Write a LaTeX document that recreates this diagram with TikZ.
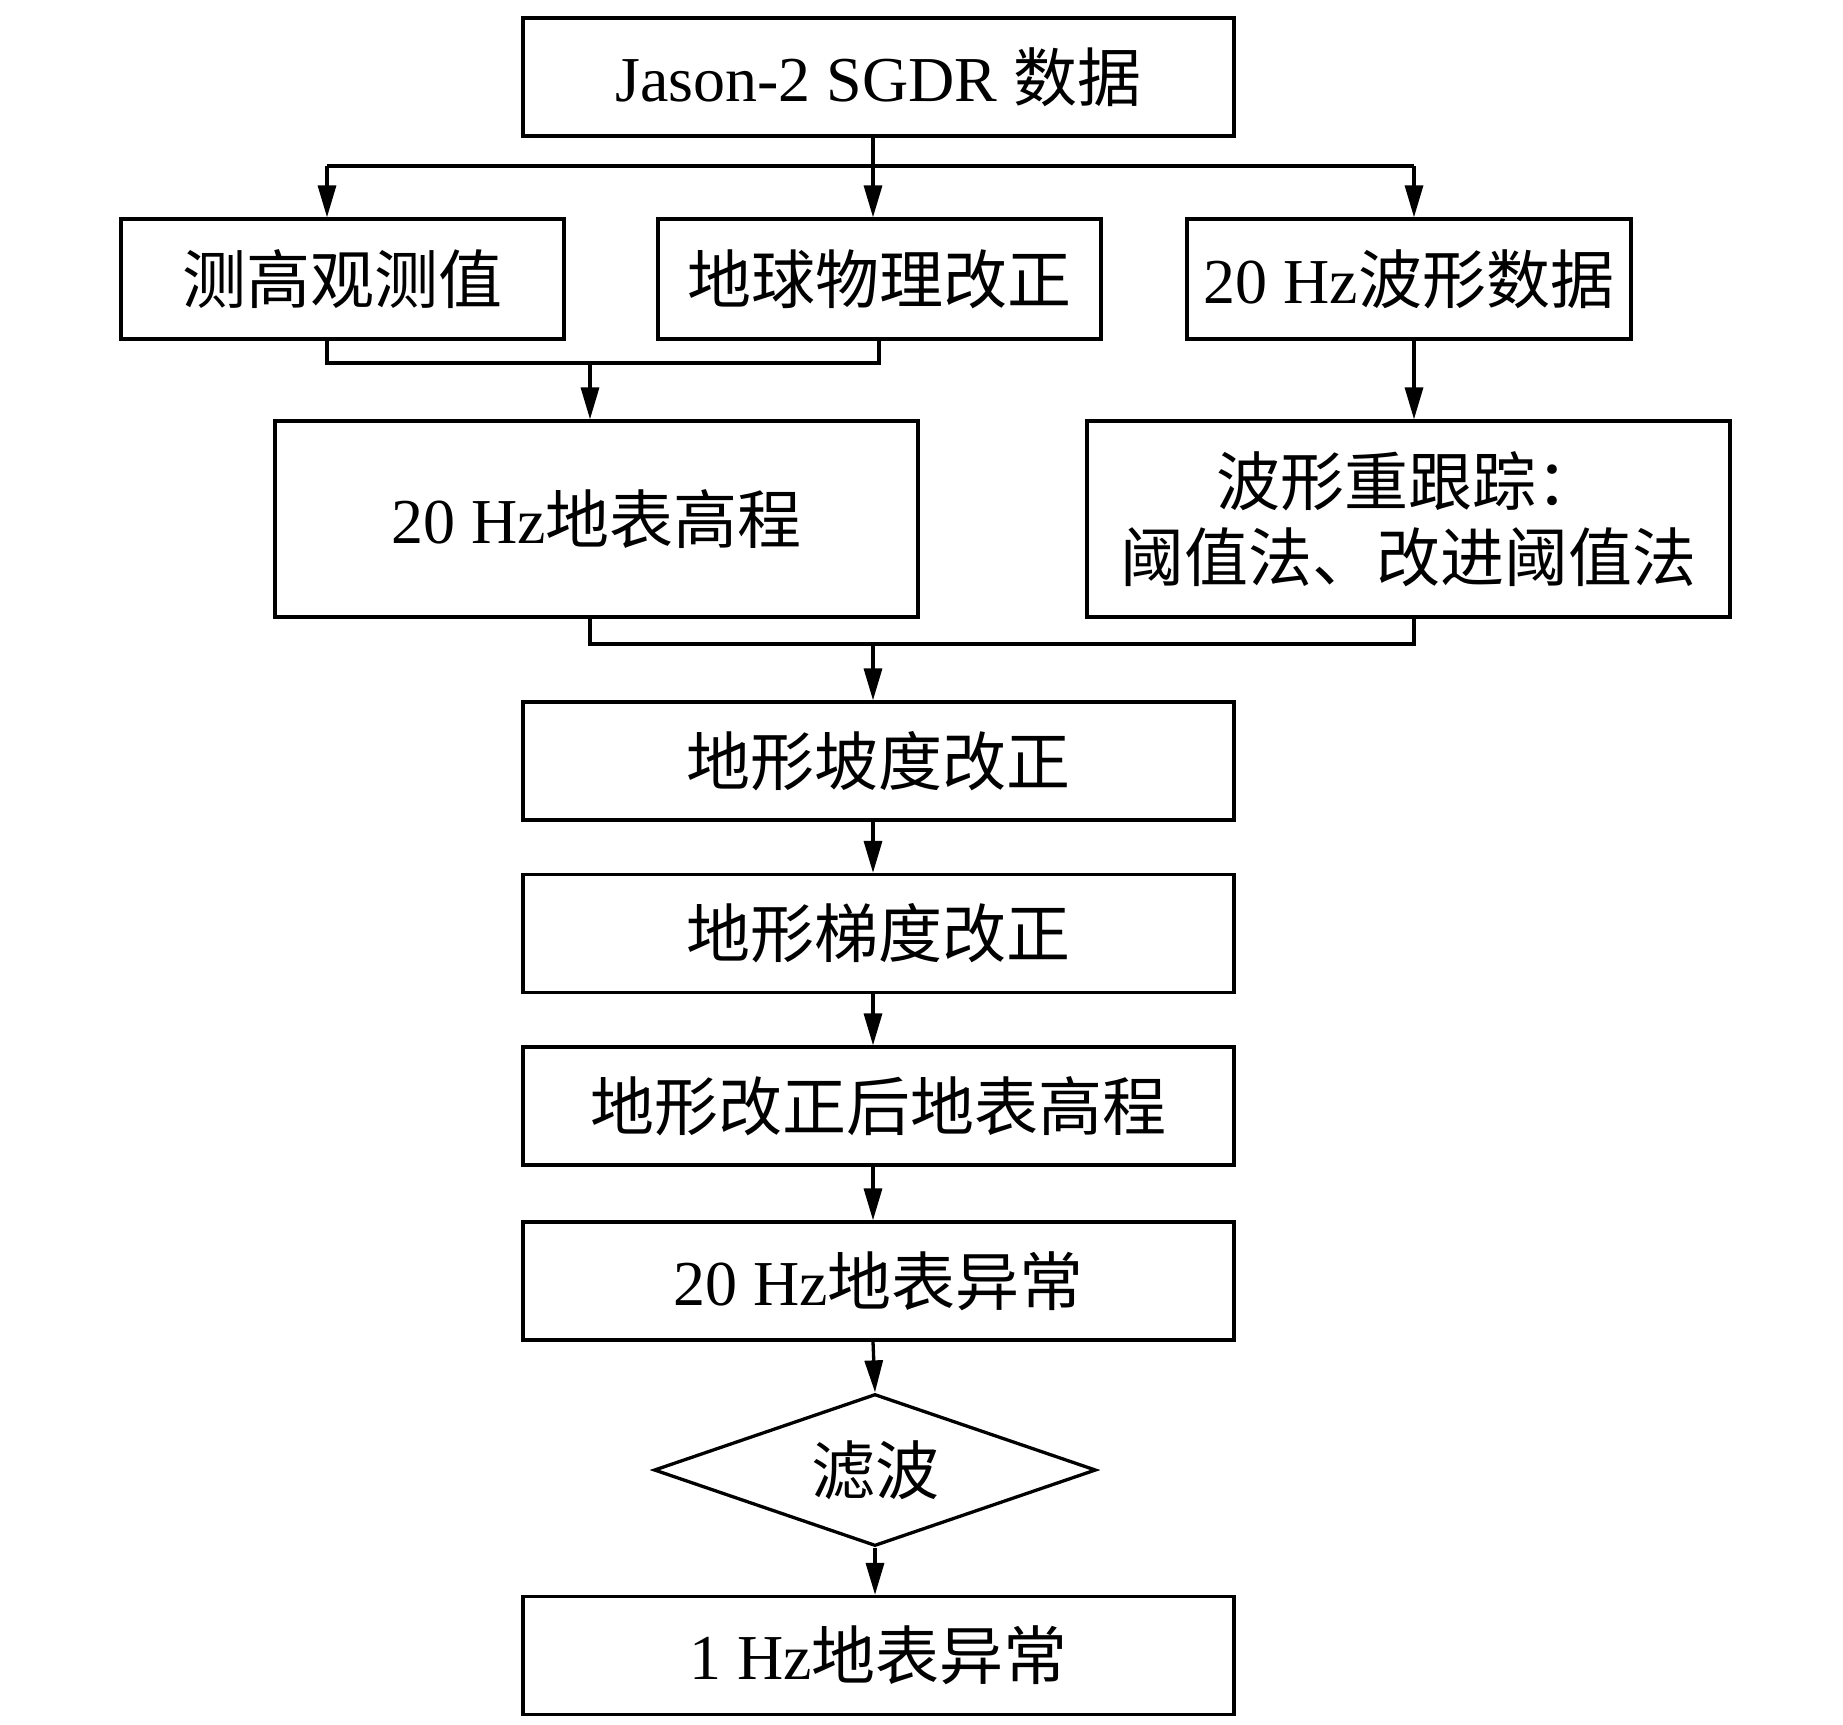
\documentclass[tikz,border=0pt]{standalone}
\usepackage{fontspec}
\setmainfont{Liberation Serif}
\newfontfamily\zh{Noto Sans CJK SC}
\usetikzlibrary{arrows.meta,shapes.geometric}
\tikzset{
  box/.style={draw, line width=3.3pt, rectangle, inner sep=0pt, align=center,
    font=\fontsize{64pt}{76pt}\selectfont},
  dia/.style={draw, line width=3.3pt, diamond, inner sep=0pt, aspect=2.9,
    font=\fontsize{64pt}{76pt}\selectfont},
  conn/.style={line width=3.3pt},
  arr/.style={line width=3.3pt, -{Triangle[length=32pt,width=18pt]}},
}
\begin{document}
\begin{tikzpicture}[x=1pt,y=-1pt]
\useasboundingbox (0,0) rectangle (1843,1724);
\node[box, minimum width=711pt, minimum height=118pt] (top) at (878.5,77) {Jason-2 SGDR {\zh 数据}};
\node[box, minimum width=443pt, minimum height=120pt] (a) at (342.5,279) {\zh 测高观测值};
\node[box, minimum width=443pt, minimum height=120pt] (b) at (879.5,279) {\zh 地球物理改正};
\node[box, minimum width=444pt, minimum height=120pt] (c) at (1409,279) {20 Hz{\zh 波形数据}};
\node[box, minimum width=643pt, minimum height=196pt] (d) at (596.5,519) {20 Hz{\zh 地表高程}};
\node[box, minimum width=643pt, minimum height=196pt] (e) at (1408.5,519) {{\zh 波形重跟踪：}\\{\zh 阈值法、改进阈值法}};
\node[box, minimum width=711pt, minimum height=118pt] (f) at (878.5,761) {\zh 地形坡度改正};
\node[box, minimum width=711pt, minimum height=118pt] (g) at (878.5,933.5) {\zh 地形梯度改正};
\node[box, minimum width=711pt, minimum height=118pt] (h) at (878.5,1106) {\zh 地形改正后地表高程};
\node[box, minimum width=711pt, minimum height=118pt] (i) at (878.5,1281) {20 Hz{\zh 地表异常}};
\node[dia, minimum width=442pt, minimum height=152pt] (k) at (875,1470) {\zh 滤波};
\node[box, minimum width=711pt, minimum height=118pt] (j) at (878.5,1655.5) {1 Hz{\zh 地表异常}};

\coordinate (s1) at (873,166);
\coordinate (s1l) at (327,166);
\coordinate (s1r) at (1414,166);
\draw[conn] (top.south -| s1) -- (s1);
\draw[conn] (s1l) -- (s1r);
\draw[arr] (s1l) -- (a.north -| s1l);
\draw[arr] (s1) -- (b.north -| s1);
\draw[arr] (s1r) -- (c.north -| s1r);

\coordinate (m1l) at (327,363);
\coordinate (m1r) at (879,363);
\coordinate (m1) at (590,363);
\draw[conn] (a.south -| m1l) -- (m1l) -- (m1r) -- (b.south -| m1r);
\draw[arr] (m1) -- (d.north -| m1);
\draw[arr] (c.south -| s1r) -- (e.north -| s1r);

\coordinate (m2l) at (590,644);
\coordinate (m2r) at (1414,644);
\coordinate (m2) at (873,644);
\draw[conn] (d.south -| m2l) -- (m2l) -- (m2r) -- (e.south -| m2r);
\draw[arr] (m2) -- (f.north -| m2);
\draw[arr] (f.south -| m2) -- (g.north -| m2);
\draw[arr] (g.south -| m2) -- (h.north -| m2);
\draw[arr] (h.south -| m2) -- (i.north -| m2);
\draw[arr] (i.south -| m2) -- (k.north);
\draw[arr] (k.south) -- (j.north -| k.south);
\end{tikzpicture}
\end{document}
